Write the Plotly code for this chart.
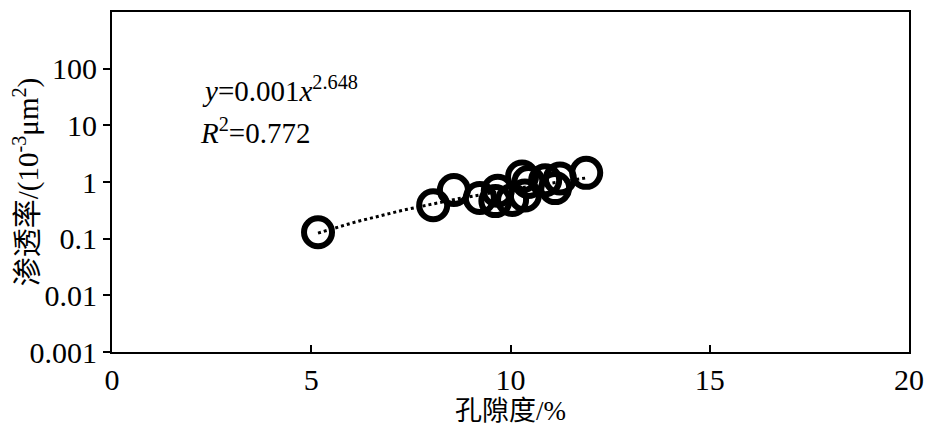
import numpy as np
import plotly.graph_objects as go

porosity = [5.17, 8.06, 8.58, 9.23, 9.62, 9.68, 10.04, 10.36, 10.29, 10.45, 10.87, 11.12, 11.24, 11.90]
permeability = [0.13, 0.39, 0.72, 0.52, 0.46, 0.70, 0.48, 0.58, 1.25, 1.0, 1.07, 0.78, 1.15, 1.45]

x_ticks = [0, 5, 10, 15, 20]
y_ticks = [0.001, 0.01, 0.1, 1, 10, 100]
y_ticktext = ["0.001", "0.01", "0.1", "1", "10", "100"]

# power-law trend fitted to the data (log-log least squares)
b, loga = np.polyfit(np.log(porosity), np.log(permeability), 1)
fx = np.linspace(min(porosity), max(porosity), 40)
fy = np.exp(loga) * fx ** b

FONT = "Liberation Serif"
CJK = "Liberation Serif, Noto Sans CJK SC"

fig = go.Figure()
fig.add_trace(go.Scatter(x=fx, y=fy, mode="lines",
                         line=dict(color="black", width=3, dash="dot"),
                         showlegend=False, hoverinfo="skip"))
fig.add_trace(go.Scatter(x=porosity, y=permeability, mode="markers",
                         marker=dict(symbol="circle-open", size=28, color="black",
                                     line=dict(color="black", width=6)),
                         showlegend=False))

fig.add_annotation(xref="paper", yref="paper", x=0.111, y=0.774, xanchor="left", yanchor="middle",
                   text="<i>y</i>=0.001<i>x</i><sup>2.648</sup>", showarrow=False,
                   font=dict(family=FONT, size=29, color="black"))
fig.add_annotation(xref="paper", yref="paper", x=0.108, y=0.65, xanchor="left", yanchor="middle",
                   text="<i>R</i><sup>2</sup>=0.772", showarrow=False,
                   font=dict(family=FONT, size=29, color="black"))

fig.update_layout(
    width=925, height=424,
    margin=dict(l=104, r=24, t=4, b=80),
    plot_bgcolor="white", paper_bgcolor="white",
    font=dict(family=FONT, size=30, color="black"),
    xaxis=dict(range=[0, 20], tickvals=x_ticks, ticks="inside", ticklen=7, tickwidth=1.5,
               tickcolor="black", showline=True, linecolor="black", linewidth=2, mirror=True,
               showgrid=False, zeroline=False, tickfont=dict(family=FONT, size=30),
               automargin=False,
               title=dict(text="孔隙度/%", font=dict(family=CJK, size=27), standoff=4)),
    yaxis=dict(type="log", range=[-3, 3], tickvals=y_ticks, ticktext=y_ticktext,
               ticks="outside", ticklen=7, tickwidth=1.5, tickcolor="black",
               showline=True, linecolor="black", linewidth=2, mirror=True,
               showgrid=False, zeroline=False, tickfont=dict(family=FONT, size=30),
               automargin=False,
               title=dict(text="渗透率/(10<sup>-3</sup>μm<sup>2</sup>)", font=dict(family=CJK, size=29), standoff=2)),
)

fig.write_html("out.html")
